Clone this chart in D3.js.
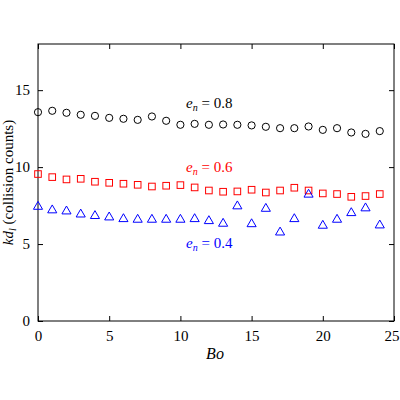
<!DOCTYPE html>
<html><head><meta charset="utf-8">
<script src="https://cdn.jsdelivr.net/npm/d3@7"></script>
<style>body{margin:0;background:#fff}text{font-family:"Liberation Serif","DejaVu Serif",serif}</style>
</head><body><div id="chart"></div>
<script>
const bo = d3.range(0, 25);
const en08 = [13.57,13.66,13.53,13.40,13.33,13.20,13.14,13.07,13.29,13.01,12.75,12.81,12.75,12.77,12.75,12.71,12.62,12.53,12.53,12.64,12.42,12.53,12.25,12.16,12.34];
const en06 = [9.55,9.35,9.20,9.24,9.05,8.98,8.92,8.85,8.74,8.79,8.83,8.68,8.48,8.40,8.42,8.53,8.35,8.48,8.66,8.48,8.29,8.25,8.07,8.12,8.25];
const en04 = [7.43,7.20,7.13,6.93,6.83,6.74,6.63,6.59,6.59,6.59,6.59,6.63,6.50,6.33,7.46,6.30,7.30,5.76,6.63,8.22,6.20,6.59,7.02,7.33,6.22];
const xTicks = [0,5,10,15,20,25];
const yTicks = [0,5,10,15];

const W = 400, H = 400, m = {l:38, r:6, t:44, b:79};
const svg = d3.select("#chart").append("svg").attr("width", W).attr("height", H);
const x = d3.scaleLinear().domain([0,25]).range([m.l, W-m.r]);
const y = d3.scaleLinear().domain([0,18]).range([H-m.b, m.t]);

svg.append("rect").attr("x", m.l).attr("y", m.t).attr("width", W-m.r-m.l).attr("height", H-m.b-m.t)
    .attr("fill", "none").attr("stroke", "#000").attr("stroke-width", 1);

function style(g) {
    g.select(".domain").remove();
    g.selectAll("text").attr("font-size", 15).attr("fill", "#000");
}
const xb = svg.append("g").attr("transform", `translate(0,${H-m.b})`)
    .call(d3.axisBottom(x).tickValues(xTicks).tickSizeInner(-5).tickSizeOuter(0).tickPadding(9)).call(style);
xb.selectAll("text").filter(d => d == 25).attr("text-anchor", "end").attr("dx", 5);
svg.append("g").attr("transform", `translate(0,${m.t})`)
    .call(d3.axisTop(x).tickValues(xTicks).tickSizeInner(-5).tickSizeOuter(0).tickFormat("")).call(style);
svg.append("g").attr("transform", `translate(${m.l},0)`)
    .call(d3.axisLeft(y).tickValues(yTicks).tickSizeInner(-5).tickSizeOuter(0).tickPadding(8)).call(style);
svg.append("g").attr("transform", `translate(${W-m.r},0)`)
    .call(d3.axisRight(y).tickValues(yTicks).tickSizeInner(-5).tickSizeOuter(0).tickFormat("")).call(style);

svg.selectAll(".c").data(en08).enter().append("circle")
    .attr("cx", (d,i) => x(bo[i])).attr("cy", d => y(d)).attr("r", 3.6)
    .attr("fill", "none").attr("stroke", "#000").attr("stroke-width", 1);
svg.selectAll(".s").data(en06).enter().append("rect")
    .attr("x", (d,i) => x(bo[i]) - 3.3).attr("y", d => y(d) - 3.3).attr("width", 6.6).attr("height", 6.6)
    .attr("fill", "none").attr("stroke", "red").attr("stroke-width", 1);
const tri = d3.symbol().type(d3.symbolTriangle).size(36);
svg.selectAll(".t").data(en04).enter().append("path")
    .attr("d", tri).attr("transform", (d,i) => `translate(${x(bo[i])},${y(d)})`)
    .attr("fill", "none").attr("stroke", "blue").attr("stroke-width", 1);

function label(yy, col, val) {
    const t = svg.append("text").attr("x", 186).attr("y", yy).attr("fill", col).attr("font-size", 15);
    t.append("tspan").attr("font-style", "italic").text("e");
    t.append("tspan").attr("font-style", "italic").attr("font-size", 10).attr("dy", 3).text("n");
    t.append("tspan").attr("dy", -3).text(" = " + val);
}
label(108, "#000", "0.8");
label(172, "red", "0.6");
label(248, "blue", "0.4");

svg.append("text").attr("x", 215).attr("y", 359).attr("text-anchor", "middle")
    .attr("font-size", 16).attr("font-style", "italic").text("Bo");
const yl = svg.append("text").attr("transform", `translate(13,${(m.t+H-m.b)/2}) rotate(-90)`)
    .attr("text-anchor", "middle").attr("font-size", 15);
yl.append("tspan").attr("font-style", "italic").text("kd");
yl.append("tspan").attr("font-style", "italic").attr("font-size", 10).attr("dy", 3).text("l");
yl.append("tspan").attr("dy", -3).text(" (collision counts)");
</script></body></html>
